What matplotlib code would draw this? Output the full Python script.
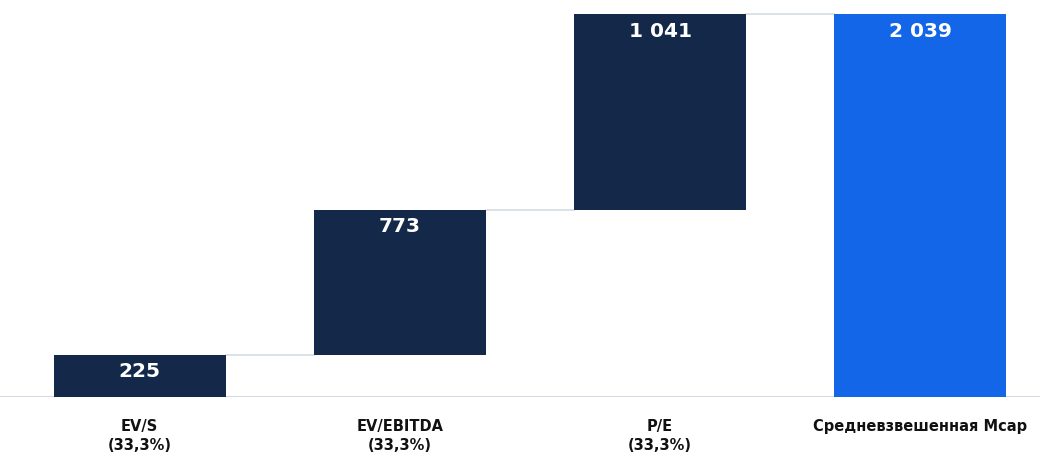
import matplotlib.pyplot as plt

# waterfall data (млн)
categories = ["EV/S\n(33,3%)", "EV/EBITDA\n(33,3%)", "P/E\n(33,3%)", "Средневзвешенная Mcap"]
steps = [225, 773, 1041]
total = 2039
value_labels = ["225", "773", "1 041", "2 039"]

navy = "#14284a"
blue = "#1466e8"
grid_grey = "#d5dae3"

fig = plt.figure(figsize=(10.4, 4.55), dpi=100)
ax = fig.add_axes([0, 58 / 455, 1, 397 / 455])

# bottoms of each step
bottoms = []
running = 0
for s in steps:
    bottoms.append(running)
    running += s

heights = steps + [total]
bottoms = bottoms + [0]
colors = [navy] * len(steps) + [blue]
xs = list(range(len(heights)))
width = 0.66

ax.bar(xs, heights, width=width, bottom=bottoms, color=colors, zorder=3)

# connectors between bars
for i in range(len(heights) - 1):
    top = bottoms[i] + heights[i]
    ax.plot([xs[i] + width / 2, xs[i + 1] - width / 2], [top, top],
            color=grid_grey, lw=1.2, zorder=2)

# baseline
ax.axhline(0, color=grid_grey, lw=1.5, zorder=1)

# value labels inside bar tops
for x, b, h, lab in zip(xs, bottoms, heights, value_labels):
    ax.annotate(lab, (x, b + h), xytext=(0, -5.5), textcoords="offset points",
                ha="center", va="top", color="white", fontsize=14.5,
                fontweight="bold", family="DejaVu Sans")

# category labels
for x, lab in zip(xs, categories):
    ax.annotate(lab, (x, 0), xytext=(0, -15.5), textcoords="offset points",
                ha="center", va="top", color="#111111", fontsize=10.5,
                fontweight="bold", family="DejaVu Sans", linespacing=1.4,
                annotation_clip=False)

ax.set_xlim(-0.537, 3.46)
ax.set_ylim(0, total * 397 / 383)
ax.axis("off")

plt.savefig("out.png", dpi=100)
plt.close()
